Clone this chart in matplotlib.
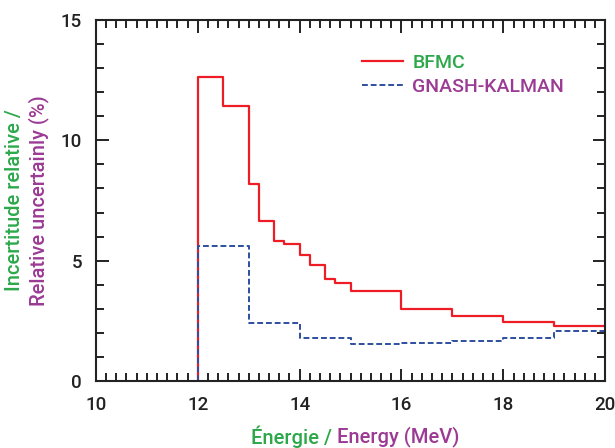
import numpy as np
import matplotlib.pyplot as plt

plt.rcParams['font.family'] = ['Roboto', 'DejaVu Sans']
plt.rcParams['font.weight'] = 'medium'

# bin edges (MeV) and relative uncertainties (%)
bfmc_edges = [12, 12.5, 13, 13.2, 13.5, 13.7, 14, 14.2, 14.5, 14.7, 15, 16, 17, 18, 19, 20]
bfmc_vals = [12.64, 11.44, 8.20, 6.65, 5.82, 5.70, 5.23, 4.82, 4.24, 4.08, 3.75, 2.99, 2.69, 2.44, 2.30]

gk_edges = [12, 13, 14, 15, 16, 17, 18, 19, 20]
gk_vals = [5.62, 2.42, 1.80, 1.51, 1.57, 1.65, 1.76, 2.08]

green = '#2ca84a'
purple = '#9b3b94'


def steps(edges, vals):
    x = np.r_[edges[0], edges]
    y = np.r_[0, vals, vals[-1]]
    return x, y


fig = plt.figure(figsize=(6.15, 4.48), dpi=100)
ax = fig.add_axes([0.156, 0.150, 0.828, 0.805])

x, y = steps(bfmc_edges, bfmc_vals)
ax.plot(x, y, drawstyle='steps-post', color='#ee1c25', lw=1.6, label='BFMC')
x, y = steps(gk_edges, gk_vals)
ax.plot(x, y, drawstyle='steps-post', color='#2e4fa0', lw=1.4, ls=(0, (3, 1.5)),
        label='GNASH-KALMAN')

ax.set_xlim(10, 20)
ax.set_ylim(0, 15)
ax.set_xticks(np.arange(10, 21, 2))
ax.set_xticks(np.arange(10, 20.01, 0.2), minor=True)
ax.set_yticks([0, 5, 10, 15])
ax.set_yticks(np.arange(0, 16, 1), minor=True)
ax.tick_params(which='both', direction='in', top=True, right=True, width=1.4,
               labelsize=13.5, colors='#222222')
ax.tick_params(which='major', length=9)
ax.tick_params(which='minor', length=5.5)
ax.tick_params(axis='x', pad=11)
ax.tick_params(axis='y', pad=10)
for s in ax.spines.values():
    s.set_linewidth(1.5)
    s.set_color('#222222')

leg = ax.legend(loc='upper left', bbox_to_anchor=(0.488, 0.955), frameon=False,
                fontsize=14, handlelength=2.1, handletextpad=0.5,
                labelspacing=0.3, labelcolor=[green, purple])

# axis titles in two colours
fig.text(0.024, 0.553, 'Incertitude relative /', rotation=90, color=green,
         fontsize=14.5, ha='center', va='center')
fig.text(0.062, 0.553, 'Relative uncertainly (%)', rotation=90, color=purple,
         fontsize=14.5, ha='center', va='center')
fig.text(0.548, 0.025, 'Énergie / ', color=green, fontsize=14.5, ha='right', va='center')
fig.text(0.548, 0.025, 'Energy (MeV)', color=purple, fontsize=14.5, ha='left', va='center')

fig.savefig('out.png', dpi=100)
